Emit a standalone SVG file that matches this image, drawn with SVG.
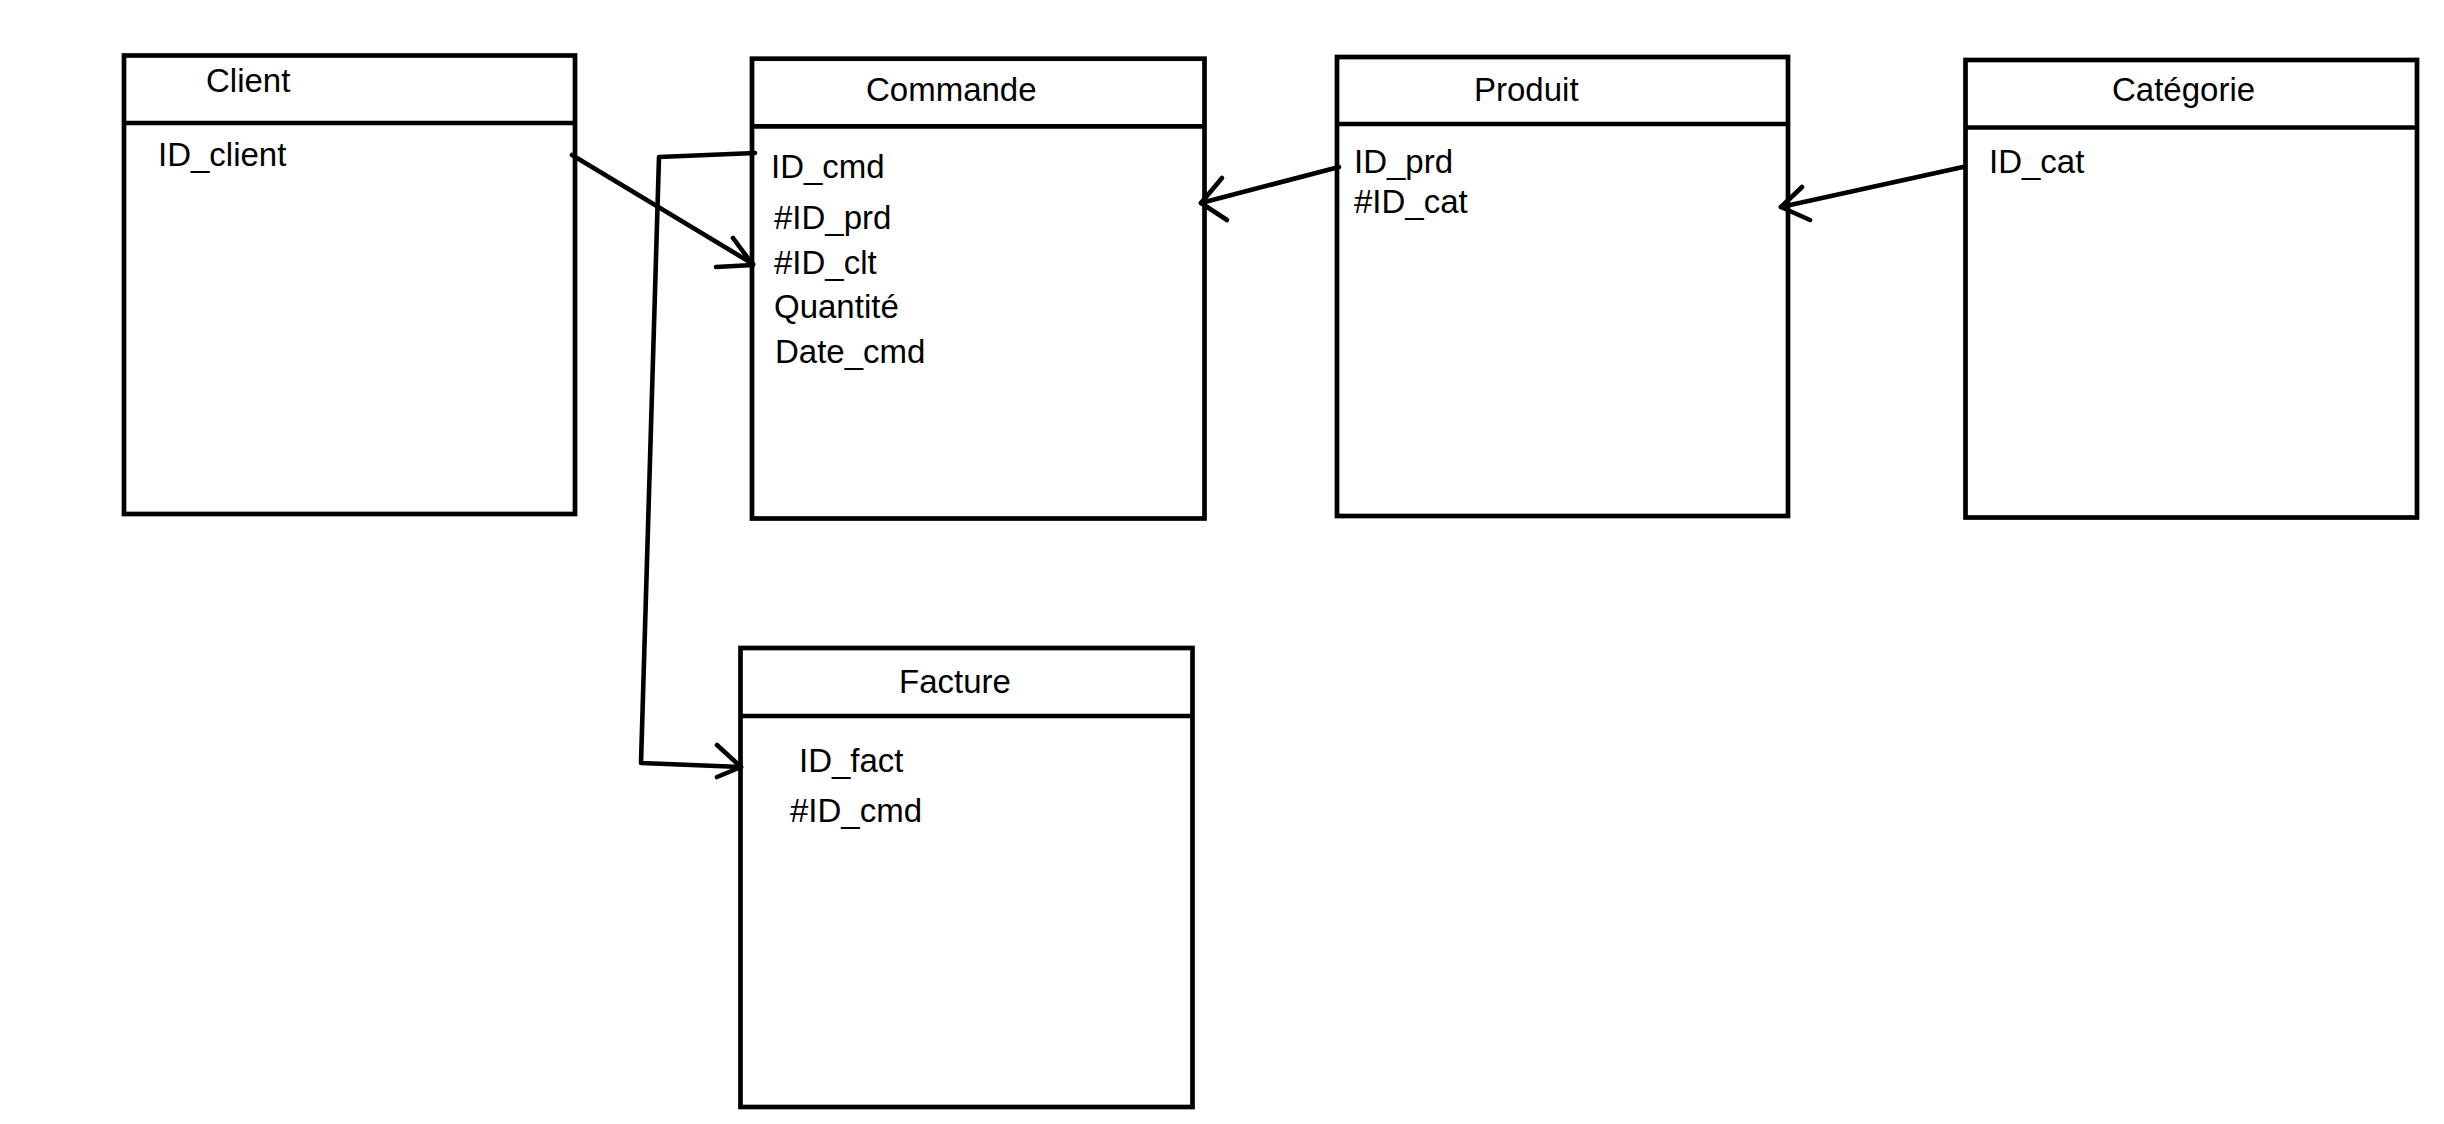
<svg xmlns="http://www.w3.org/2000/svg" width="2444" height="1124" viewBox="0 0 2444 1124">
<style>
.box{fill:#fff;stroke:#000;stroke-width:4.7}
.div{stroke:#000;stroke-width:4.7}
.t{font-family:"Liberation Sans",Arial,sans-serif;font-size:33px;fill:#000}
.c{fill:none;stroke:#000;stroke-width:4.6;stroke-linecap:round;stroke-linejoin:round}
</style>
<rect width="2444" height="1124" fill="#fff"/>
<g id="client">
<rect class="box" x="124" y="55.5" width="451" height="458.5"/>
<line class="div" x1="124" y1="123" x2="575" y2="123"/>
<text class="t" x="206" y="92">Client</text>
<text class="t" x="158" y="166">ID_client</text>
</g>
<g id="commande">
<rect class="box" x="752" y="58.7" width="452.5" height="459.8"/>
<line class="div" x1="752" y1="126.3" x2="1204.5" y2="126.3"/>
<text class="t" x="866" y="101">Commande</text>
<text class="t" x="771" y="178">ID_cmd</text>
<text class="t" x="774" y="229">#ID_prd</text>
<text class="t" x="774" y="274">#ID_clt</text>
<text class="t" x="774" y="318">Quantité</text>
<text class="t" x="775" y="363">Date_cmd</text>
</g>
<g id="produit">
<rect class="box" x="1337" y="57" width="451" height="459"/>
<line class="div" x1="1337" y1="124" x2="1788" y2="124"/>
<text class="t" x="1474" y="101">Produit</text>
<text class="t" x="1354" y="173">ID_prd</text>
<text class="t" x="1354" y="213">#ID_cat</text>
</g>
<g id="categorie">
<rect class="box" x="1965.5" y="60" width="451.5" height="457.5"/>
<line class="div" x1="1965.5" y1="127.5" x2="2417" y2="127.5"/>
<text class="t" x="2112" y="101">Catégorie</text>
<text class="t" x="1989" y="173">ID_cat</text>
</g>
<g id="facture">
<rect class="box" x="740.5" y="648" width="452" height="459"/>
<line class="div" x1="740.5" y1="716" x2="1192.5" y2="716"/>
<text class="t" x="899" y="693">Facture</text>
<text class="t" x="799" y="772">ID_fact</text>
<text class="t" x="790" y="822">#ID_cmd</text>
</g>
<g id="connectors">
<path class="c" d="M572,155 L753,264"/>
<path class="c" d="M733,238 L753,265 L716,267"/>
<path class="c" d="M755,153 L659,157 L641,763 L741,767"/>
<path class="c" d="M717,745 L741,767 L717,777"/>
<path class="c" d="M1339,167 L1201,203"/>
<path class="c" d="M1222,178 L1201,203 L1227,220"/>
<path class="c" d="M1963,167 L1781,207"/>
<path class="c" d="M1802,187 L1781,207 L1810,220"/>
</g>
</svg>
